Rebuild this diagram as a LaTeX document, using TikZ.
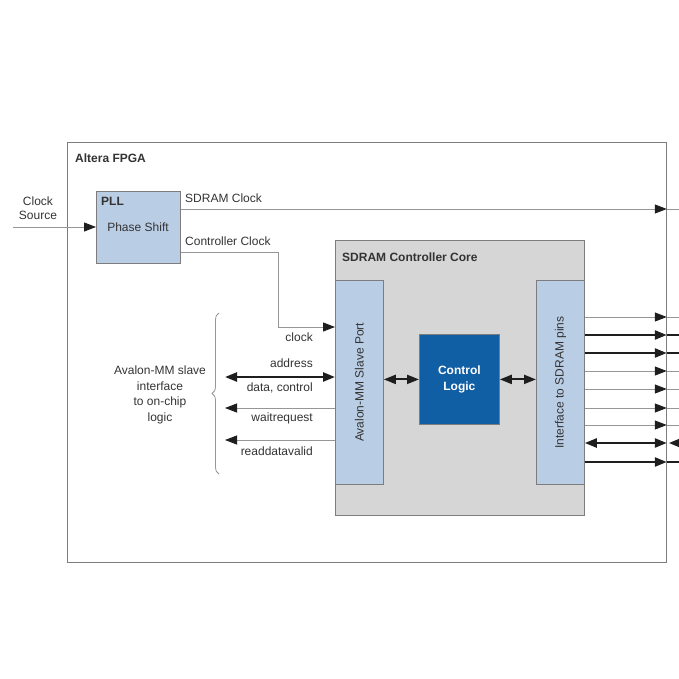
\documentclass[tikz,border=0pt]{standalone}
\usepackage{fontspec}
\setmainfont{Liberation Sans}
\usetikzlibrary{arrows.meta,decorations.pathreplacing}

\definecolor{pllblue}{RGB}{185,205,229}
\definecolor{logicblue}{RGB}{16,94,164}
\definecolor{coregray}{RGB}{214,214,214}
\definecolor{framegray}{RGB}{125,125,125}
\definecolor{wiregray}{RGB}{150,150,150}
\definecolor{tipblack}{RGB}{30,30,30}

\tikzset{
  Head/.tip={Triangle[length=12pt,width=9pt,color=tipblack]},
  blk/.style={draw=framegray, line width=0.8pt, inner sep=0pt, anchor=north west},
  lbl/.style={font=\fontsize{12}{15.5}\selectfont, inner sep=0pt, text=black!80},
  sig/.style={draw=wiregray, line width=1pt, -Head},
  bus/.style={draw=tipblack, line width=2.4pt, -Head},
}

\begin{document}
\begin{tikzpicture}[x=1pt,y=-1pt]
  \useasboundingbox (0,0) rectangle (679,679);
    % blocks
    \node[blk, minimum width=599pt, minimum height=420pt] (fpga) at (67,142) {};
    \node[blk, fill=pllblue, minimum width=84pt, minimum height=72pt] (pll) at (96,191) {};
    \node[blk, fill=coregray, minimum width=249pt, minimum height=275pt] (core) at (335,240) {};
    \node[blk, fill=pllblue, minimum width=48pt, minimum height=204pt] (avport) at (335,280) {};
    \node[blk, fill=pllblue, minimum width=48pt, minimum height=204pt] (sdport) at (536,280) {};
    \node[blk, fill=logicblue, minimum width=80pt, minimum height=90pt] (ctrl) at (419,334) {};
    \node[lbl, anchor=west, font=\fontsize{12}{15.5}\selectfont\bfseries] (fpganame) at (75,158) {Altera FPGA};
    \node[lbl, anchor=west, font=\fontsize{12}{15.5}\selectfont\bfseries] (pllname) at (101,201) {PLL};
    \node[lbl] (phase) at (138,227) {Phase Shift};
    \node[lbl, anchor=west, font=\fontsize{12}{15.5}\selectfont\bfseries] (corename) at (342,257) {SDRAM Controller Core};
    \node[lbl, rotate=90] (avname) at (avport.center) {Avalon-MM Slave Port};
    \node[lbl, rotate=90] (sdname) at (sdport.center) {Interface to SDRAM pins};
    \node[lbl, align=center, text=white, font=\fontsize{12}{16}\selectfont\bfseries] (ctrlname) at (ctrl.center) {Control\\Logic};

    % clocks
    \coordinate (clksrc) at (13,227);
    \coordinate (edgeR) at (679,0);
    \coordinate (clkbend) at (278,327);
    \node[lbl, align=center, font=\fontsize{12}{14.5}\selectfont] (srcname) at (38,208) {Clock\\Source};
    \draw[sig] (clksrc) -- (pll.west |- clksrc);
    \draw[sig] (pll.east |- 0,209) -- (fpga.east |- 0,209) edge[-] (edgeR |- 0,209);
    \draw[sig] (pll.east |- 0,252) -| (clkbend) -- (avport.west |- clkbend);
    \node[lbl, anchor=west] (sdclk) at (185,198) {SDRAM Clock};
    \node[lbl, anchor=west] (ctlclk) at (185,241) {Controller Clock};

    % avalon side
    \coordinate (lhsA) at (225,377);
    \coordinate (lhsW) at (225,408);
    \coordinate (lhsR) at (225,440);
    \draw[bus, Head-Head] (lhsA) -- (avport.west |- lhsA);
    \draw[sig] (avport.west |- lhsW) -- (lhsW);
    \draw[sig] (avport.west |- lhsR) -- (lhsR);
    \node[lbl, anchor=east] (clkname) at (313,337) {clock};
    \node[lbl, anchor=east] (addrname) at (313,363) {address};
    \node[lbl, anchor=east] (dataname) at (313,388) {data, control};
    \node[lbl, anchor=east] (waitname) at (313,418) {waitrequest};
    \node[lbl, anchor=east] (validname) at (313,451) {readdatavalid};
    \coordinate (braceB) at (219,474);
    \coordinate (braceT) at (219,313);
    \draw[wiregray, line width=0.8pt, decorate, decoration={brace, amplitude=7pt}] (braceB) -- (braceT);
    \node[lbl, align=center] (slave) at (160,395) {Avalon-MM slave\\interface\\to on-chip\\logic};

    % inside the core
    \draw[bus, line width=2pt, Head-Head] (avport.east |- ctrl) -- (ctrl.west);
    \draw[bus, line width=2pt, Head-Head] (ctrl.east) -- (sdport.west |- ctrl);

    % SDRAM pins
    \draw[sig] (sdport.east |- 0,317) -- (fpga.east |- 0,317) edge[-] (edgeR |- 0,317);
    \draw[bus] (sdport.east |- 0,335) -- (fpga.east |- 0,335) edge[-] (edgeR |- 0,335);
    \draw[bus] (sdport.east |- 0,353) -- (fpga.east |- 0,353) edge[-] (edgeR |- 0,353);
    \draw[sig] (sdport.east |- 0,371) -- (fpga.east |- 0,371) edge[-] (edgeR |- 0,371);
    \draw[sig] (sdport.east |- 0,389) -- (fpga.east |- 0,389) edge[-] (edgeR |- 0,389);
    \draw[sig] (sdport.east |- 0,408) -- (fpga.east |- 0,408) edge[-] (edgeR |- 0,408);
    \draw[sig] (sdport.east |- 0,425) -- (fpga.east |- 0,425) edge[-] (edgeR |- 0,425);
    \draw[bus, Head-Head] (sdport.east |- 0,443) -- (fpga.east |- 0,443); % bidirectional
    \draw[bus] (edgeR |- 0,443) -- ([xshift=2pt]fpga.east |- 0,443);
    \draw[bus] (sdport.east |- 0,462) -- (fpga.east |- 0,462) edge[-] (edgeR |- 0,462);
  \end{tikzpicture}
\end{document}
